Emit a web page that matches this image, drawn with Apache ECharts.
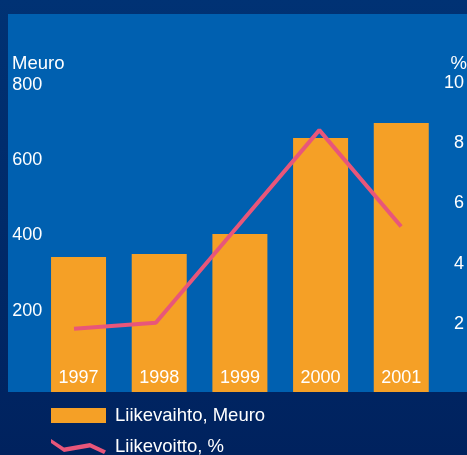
<!DOCTYPE html>
<html>
<head>
<meta charset="utf-8">
<style>html,body{margin:0;padding:0;background:#002a6a;}#c{width:467px;height:455px;}</style>
<script src="https://cdn.jsdelivr.net/npm/echarts@6/dist/echarts.min.js"></script>
</head>
<body>
<div id="c"></div>
<script>
const years = ['1997', '1998', '1999', '2000', '2001'];
const liikevaihto = [359, 367, 420, 675, 715];   // Meuro
const liikevoitto = [2.1, 2.3, 5.5, 8.7, 5.5];   // %
const leftTicks = [0, 200, 400, 600, 800];
const rightTicks = [0, 2, 4, 6, 8, 10];

const FONT = 'Liberation Sans';
const chart = echarts.init(document.getElementById('c'));
chart.setOption({
  animation: false,
  backgroundColor: {
    type: 'linear', x: 0, y: 0, x2: 0, y2: 1,
    colorStops: [{offset: 0, color: '#003274'}, {offset: 1, color: '#00225e'}]
  },
  graphic: [
    {type: 'rect', z: -5, shape: {x: 8, y: 14, width: 470, height: 378}, style: {fill: '#0060b0'}},
    {type: 'text', left: 12, top: 54, style: {text: 'Meuro', fill: '#ffffff', font: '18.5px "' + FONT + '"'}},
    {type: 'text', right: 0, top: 54, style: {text: '%', fill: '#ffffff', font: '18.5px "' + FONT + '"', textAlign: 'right'}}
  ],
  legend: {
    orient: 'vertical', left: 51, top: 406, height: 120, padding: 0,
    itemWidth: 55, itemHeight: 15, itemGap: 12,
    textStyle: {color: '#ffffff', fontSize: 18.5, fontFamily: FONT, padding: [0, 0, 0, 4]},
    data: [
      {name: 'Liikevaihto, Meuro', icon: 'rect', itemStyle: {color: '#f5a026'}},
      {name: 'Liikevoitto, %', icon: 'path://M0,0 L13,8.5 L39,4 L55,11.5 L53,15 L39,8.5 L13,13 L0,4 Z',
       itemStyle: {color: '#e8567a', borderWidth: 0}}
    ]
  },
  grid: [
    {left: 38.2, right: 25.4, top: 91, bottom: 63},
    {left: 33.1, right: 15.1, top: 91, bottom: 63}
  ],
  xAxis: [
    {type: 'category', gridIndex: 0, data: years, z: 10,
     axisLine: {show: false}, axisTick: {show: false},
     axisLabel: {inside: true, margin: 5, color: '#ffffff', fontSize: 18, fontFamily: FONT}},
    {type: 'category', gridIndex: 1, data: years, show: false}
  ],
  yAxis: [
    {type: 'value', gridIndex: 0, min: 0, max: 800, interval: 200,
     axisLine: {show: false}, axisTick: {show: false}, splitLine: {show: false},
     axisLabel: {align: 'left', verticalAlign: 'bottom', lineHeight: 12, margin: 26,
       color: '#ffffff', fontSize: 18, fontFamily: FONT,
       formatter: v => (v === 0 || leftTicks.indexOf(v) < 0) ? '' : String(v)}},
    {type: 'value', gridIndex: 1, position: 'right', min: 0, max: 10, interval: 2,
     axisLine: {show: false}, axisTick: {show: false}, splitLine: {show: false},
     axisLabel: {align: 'right', verticalAlign: 'bottom', lineHeight: 16, margin: 22,
       color: '#ffffff', fontSize: 18, fontFamily: FONT,
       formatter: v => (v === 0 || rightTicks.indexOf(v) < 0) ? '' : String(v)}}
  ],
  series: [
    {name: 'Liikevaihto, Meuro', type: 'bar', xAxisIndex: 0, yAxisIndex: 0, data: liikevaihto,
     barWidth: 55, itemStyle: {color: '#f5a026'}},
    {name: 'Liikevoitto, %', type: 'line', xAxisIndex: 1, yAxisIndex: 1, data: liikevoitto,
     symbol: 'none', lineStyle: {color: '#e8567a', width: 4}, itemStyle: {color: '#e8567a'}, z: 3}
  ]
});
</script>
</body>
</html>
